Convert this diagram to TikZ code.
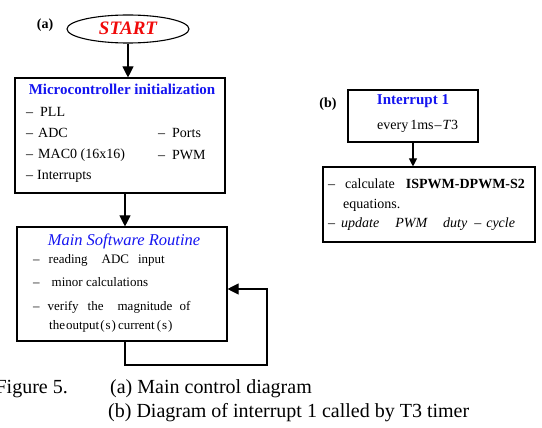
\documentclass[tikz,border=0pt]{standalone}
\usepackage{fontspec}
\setmainfont{Liberation Serif}
\usetikzlibrary{arrows.meta,shapes.geometric}
\definecolor{tblue}{RGB}{20,20,240}
\definecolor{tred}{RGB}{240,10,10}
\newcommand{\fs}[1]{\fontsize{#1}{#1}\selectfont}
\begin{document}
\begin{tikzpicture}[x=1pt,y=-1pt,
  frame/.style={draw, line width=1.1pt, inner sep=0pt},
  txt/.style={anchor=base west, inner sep=0pt, font=\fs{14}},
  txs/.style={anchor=base west, inner sep=0pt, font=\fs{13}},
  ctr/.style={anchor=base, inner sep=0pt},
  arr/.style={line width=1.1pt, -{Triangle[length=11pt,width=11pt]}},
  arrs/.style={line width=1.1pt, -{Triangle[length=8pt,width=8pt]}}]
\useasboundingbox (0,0) rectangle (542,428);

% (a) diagram
\node[ctr, font=\fs{14}\bfseries] (la) at (45,29) {(a)};
\node[draw, ellipse, line width=1.1pt, minimum width=122pt, minimum height=28pt, inner sep=0pt] (start) at (128,29) {};
\node[ctr, font=\fs{19}\bfseries\itshape, text=tred] (starttxt) at (128,35) {START};

\node[frame, minimum width=210pt, minimum height=115pt] (box1) at (120,135.5) {};
\node[ctr, font=\fs{15}\bfseries, text=tblue] (t1) at (122,95) {Microcontroller initialization};
\node[txt] (i1) at (26,117) {–\hspace{7pt}PLL};
\node[txt] (i2) at (26,138) {–\hspace{5pt}ADC};
\node[txt] (i3) at (26,159) {–\hspace{5pt}MAC0 (16x16)};
\node[txt] (i4) at (26,180) {–\hspace{4pt}Interrupts};
\node[txt] (i5) at (158,138) {–\hspace{7pt}Ports};
\node[txt] (i6) at (158,160) {–\hspace{7pt}PWM};

\node[frame, minimum width=210pt, minimum height=114pt] (box2) at (122,284) {};
\node[ctr, font=\fs{16.5}\itshape, text=tblue] (t2) at (124,246) {Main Software Routine};
\node[txs] (j1) at (33,264) {–\hspace{9pt}reading\hspace{14pt}ADC\hspace{9pt}input};
\node[txs] (j2) at (33,287) {–\hspace{12pt}minor calculations};
\node[txs] (j3) at (33,310) {–\hspace{8pt}verify\hspace{9pt}the\hspace{14pt}magnitude\hspace{7pt}of};
\node[txs] (j4) at (49,329) {the\hspace{1pt}output\hspace{1pt}(\hspace{1pt}s\hspace{1pt})\hspace{2pt}current\hspace{2pt}(\hspace{1pt}s\hspace{1pt})};

\draw[arr] (start.south) -- (start.south |- box1.north);
\draw[arr] ([xshift=5pt]box1.south) -- ([xshift=5pt]box1.south |- box2.north);
\coordinate (lp) at (267,365);
\coordinate (lq) at (267,289);
\draw[arr] ([xshift=3pt]box2.south) |- (lp) -- (lq) -- (lq -| box2.east);

% (b) diagram
\node[ctr, font=\fs{14}\bfseries] (lb) at (328,108) {(b)};
\node[frame, minimum width=130pt, minimum height=52pt] (bb1) at (413,116) {};
\node[ctr, font=\fs{15}\bfseries, text=tblue] (t3) at (413,105) {Interrupt 1};
\node[txt] (k0) at (377,130) {every\hspace{2pt}1ms\hspace{1pt}–\hspace{1pt}\textit{T}3};
\node[frame, minimum width=212pt, minimum height=75pt] (bb2) at (429,204.5) {};
\draw[arrs] (bb1.south) -- (bb1.south |- bb2.north);
\node[txt] (k1) at (328,189) {–\hspace{10pt}calculate\hspace{11pt}\textbf{ISPWM-DPWM-S2}};
\node[txt] (k2) at (343,208) {equations.};
\node[txt, font=\fs{14}\itshape] (k3) at (328,228) {–\hspace{6pt}update\hspace{16pt}PWM\hspace{16pt}duty\hspace{7pt}–\hspace{5pt}cycle};

% caption
\node[anchor=base east, inner sep=0pt, font=\fs{20}] (c0) at (68,393) {Figure 5.};
\node[anchor=base west, inner sep=0pt, font=\fs{20}] (c1) at (110,393) {(a) Main control diagram};
\node[anchor=base west, inner sep=0pt, font=\fs{20}] (c2) at (108,417) {(b) Diagram of interrupt 1 called by T3 timer};
\end{tikzpicture}
\end{document}
